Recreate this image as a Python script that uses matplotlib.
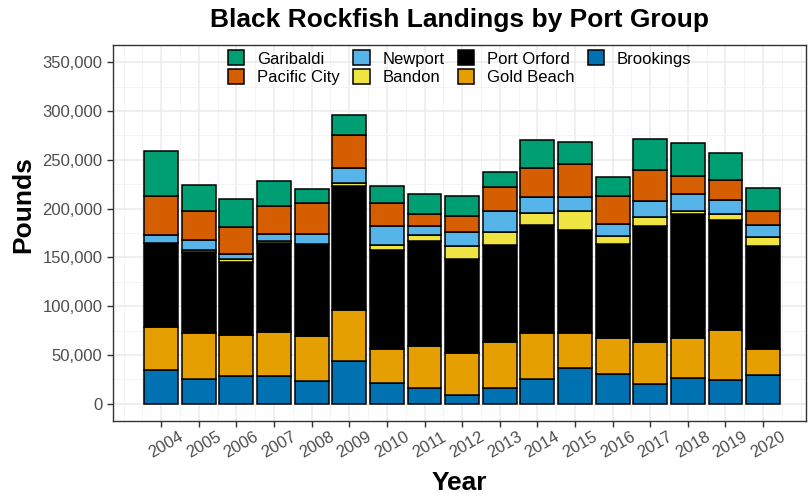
import numpy as np
import matplotlib
matplotlib.use("Agg")
import matplotlib.pyplot as plt
import matplotlib.transforms as mtransforms
from matplotlib.ticker import FuncFormatter, MultipleLocator

plt.rcParams['font.family'] = ['Liberation Sans', 'DejaVu Sans']

years = list(range(2004, 2021))

# pounds landed
brookings = [34600, 25800, 28400, 28400, 23700, 43500, 21000, 16200, 9400,
             16200, 25100, 36600, 30900, 19900, 26400, 24300, 29200]
gold_beach = [43700, 46300, 42400, 45500, 45700, 52500, 35500, 42900, 42300,
              47400, 47700, 35500, 36100, 43700, 41300, 51200, 27300]
port_orford = [86200, 83200, 74700, 91000, 94500, 127500, 100800, 107400, 96800,
               99300, 110100, 106400, 97200, 119000, 126900, 112500, 105600]
bandon = [0, 2700, 3300, 2400, 0, 2800, 5600, 6900, 12900,
          12800, 12300, 19400, 7500, 8900, 3300, 6600, 8900]
newport = [8600, 9600, 4900, 6400, 9800, 15300, 19700, 9200, 14800,
           21500, 16400, 14100, 12600, 16000, 17400, 14600, 12600]
pacific_city = [40200, 29600, 27900, 28600, 32100, 33400, 23200, 12000, 15900,
                24600, 30000, 34000, 28300, 31700, 18500, 20500, 14300]
garibaldi = [46000, 27300, 27900, 26300, 14400, 20900, 17000, 20000, 21200,
             15300, 29000, 22200, 19800, 32400, 33000, 26900, 23300]

# bottom -> top stacking order
series = [
    ("Brookings", brookings, "#0072B2"),
    ("Gold Beach", gold_beach, "#E69F00"),
    ("Port Orford", port_orford, "#000000"),
    ("Bandon", bandon, "#F0E442"),
    ("Newport", newport, "#56B4E9"),
    ("Pacific City", pacific_city, "#D55E00"),
    ("Garibaldi", garibaldi, "#009E73"),
]
legend_order = ["Garibaldi", "Pacific City", "Newport", "Bandon",
                "Port Orford", "Gold Beach", "Brookings"]

fig = plt.figure(figsize=(8.09, 4.98), dpi=100)
ax = fig.add_axes([113/809, 1 - 421/498, 693/809, 376/498])

bottom = np.zeros(len(years))
handles = {}
for name, vals, col in series:
    vals = np.array(vals, dtype=float)
    b = ax.bar(years, vals, bottom=bottom, width=0.9, color=col,
               edgecolor="black", linewidth=1.1, label=name, zorder=3)
    handles[name] = b
    bottom += vals

ax.set_xlim(2002.72, 2021.14)
ax.set_ylim(-17500, 367500)
ax.set_xticks(years)
ax.xaxis.set_minor_locator(MultipleLocator(0.5))
ax.set_yticks(range(0, 350001, 50000))
ax.yaxis.set_minor_locator(MultipleLocator(25000))
ax.yaxis.set_major_formatter(FuncFormatter(lambda v, p: f"{int(v):,}"))

ax.grid(which="major", color="#EBEBEB", linewidth=1.1, zorder=0)
ax.grid(which="minor", color="#F3F3F3", linewidth=0.6, zorder=0)
ax.set_axisbelow(True)

for s in ax.spines.values():
    s.set_color("#333333")
    s.set_linewidth(1.0)

ax.tick_params(axis="both", which="major", labelsize=12, labelcolor="#4D4D4D",
               color="#333333", length=4, width=1.0)
ax.tick_params(axis="both", which="minor", length=0)
# ggplot-style rotated labels sit a little right of the tick
shift = mtransforms.ScaledTranslation(5/100, 2/100, fig.dpi_scale_trans)
for lab in ax.get_xticklabels():
    lab.set_rotation(30)
    lab.set_ha("center")
    lab.set_transform(lab.get_transform() + shift)

leg = ax.legend([handles[n] for n in legend_order], legend_order, ncol=4,
                loc="upper center", bbox_to_anchor=(0.5, 1.012), frameon=False,
                fontsize=12, handlelength=1.0, handleheight=1.0,
                handletextpad=0.75, columnspacing=0.8, labelspacing=0.15,
                borderpad=0.1)

fig.text(459.5/809, 1 - 20/498, "Black Rockfish Landings by Port Group",
         ha="center", va="center", fontsize=19, fontweight="bold")
fig.text(23/809, 1 - 205/498, "Pounds", ha="center", va="center",
         rotation=90, fontsize=19, fontweight="bold")
fig.text(459.5/809, 1 - 483/498, "Year", ha="center", va="center",
         fontsize=19, fontweight="bold")

fig.savefig("out.png", dpi=100)
